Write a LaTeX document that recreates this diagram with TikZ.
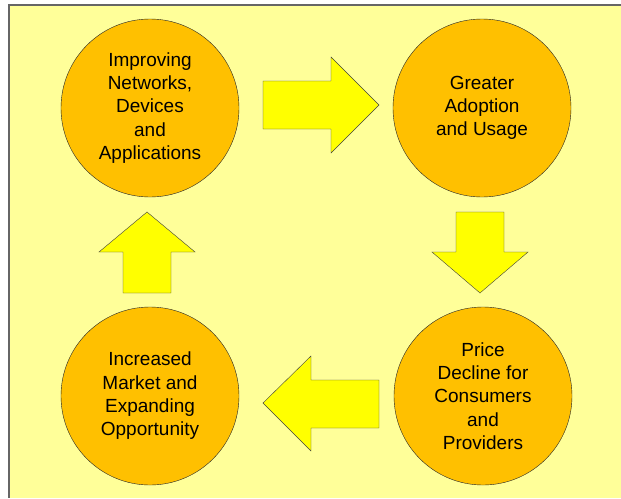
\documentclass[tikz,border=0pt]{standalone}
\usepackage{fontspec}
\setmainfont{Liberation Sans}
\definecolor{panelyellow}{RGB}{255,255,153}
\definecolor{stageorange}{RGB}{255,192,0}
\definecolor{arrowyellow}{RGB}{255,255,0}
\tikzset{
  stage/.style={circle, draw=black!85, thin, fill=stageorange, minimum size=178pt,
    inner sep=0pt, align=center, font=\fontsize{19}{23.3}\selectfont},
  blockarrow/.style={draw=black!75, thin, fill=arrowyellow, line join=miter}
}
\begin{document}
\begin{tikzpicture}[x=1pt,y=-1pt]
        \useasboundingbox (0,0) rectangle (621,498);
        % Background panel
        \fill[panelyellow] (9,5) rectangle (621,498);
        \draw[black!60, line width=1.5pt] (9,498) -- (9,5) -- (621,5);

        % The four stages of the cycle
        \node[stage] (networks) at (150,108) {Improving\\Networks,\\Devices\\and\\Applications};
        \node[stage] (adoption) at (482,108) {Greater\\Adoption\\and Usage};
        \node[stage] (price)    at (483,396) {Price\\Decline for\\Consumers\\and\\Providers};
        \node[stage] (market)   at (150,396) {Increased\\Market and\\Expanding\\Opportunity};

        % Right arrow between top stages
        \draw[blockarrow] (263,81) -- (331,81) -- (331,57) -- (379,105)
                          -- (331,153) -- (331,129) -- (263,129) -- cycle;

        % Down arrow on the right
        \draw[blockarrow] (456,212) -- (504,212) -- (504,252) -- (528,252)
                          -- (480,293) -- (432,252) -- (456,252) -- cycle;

        % Left arrow between bottom stages
        \draw[blockarrow] (379,380) -- (379,428) -- (311,428) -- (311,451)
                          -- (263,403) -- (311,356) -- (311,380) -- cycle;

        % Up arrow on the left
        \draw[blockarrow] (123,293) -- (171,293) -- (171,252) -- (195,252)
                          -- (147,212) -- (99,252) -- (123,252) -- cycle;
      \end{tikzpicture}
\end{document}
